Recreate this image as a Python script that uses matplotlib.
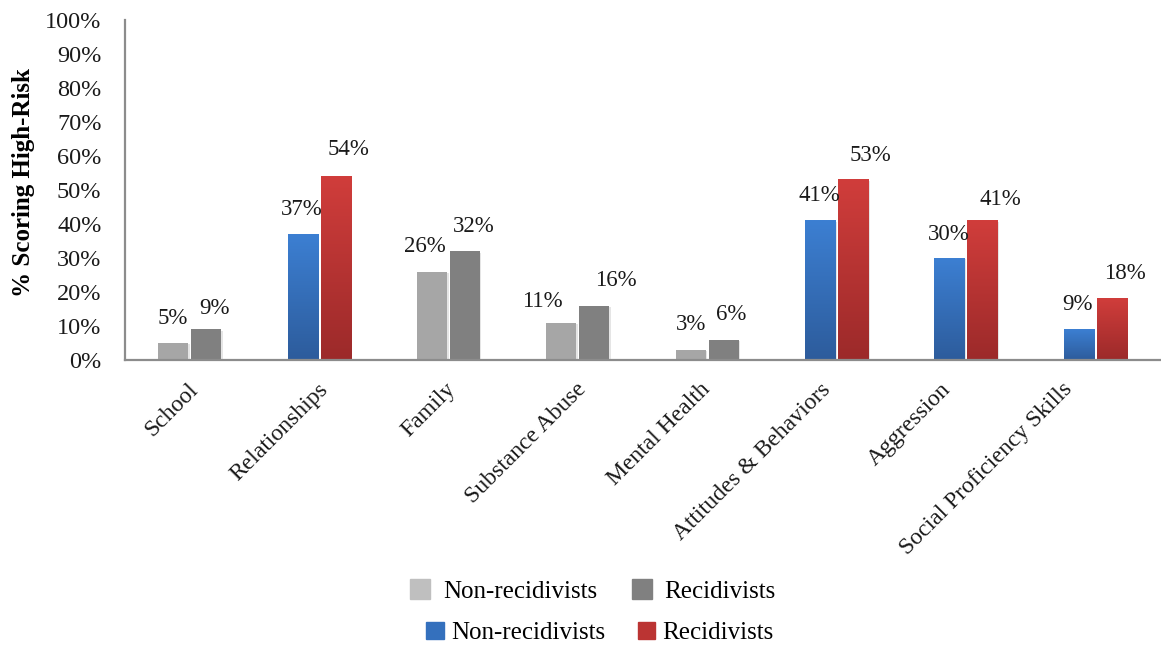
import numpy as np
import matplotlib
matplotlib.use("Agg")
import matplotlib.pyplot as plt
from matplotlib.patches import Patch, Rectangle
from matplotlib.colors import to_rgb

categories = ["School", "Relationships", "Family", "Substance Abuse",
              "Mental Health", "Attitudes & Behaviors", "Aggression",
              "Social Proficiency Skills"]
non_recid = [5, 37, 26, 11, 3, 41, 30, 9]
recid = [9, 54, 32, 16, 6, 53, 41, 18]
# domains drawn in gray, the others in blue/red
gray_domains = ["School", "Family", "Substance Abuse", "Mental Health"]

# label nudges in pixels (dx, dy above bar top)
off_non = [(0, 24), (-1, 25), (-7, 25), (-19, 21), (0, 25), (-1, 25), (-1, 24), (-1, 25)]
off_rec = [(8, 21), (13, 27), (9, 25), (22, 25), (8, 25), (17, 24), (18, 21), (13, 25)]
# horizontal nudge of the category labels, pixels
tick_shift = [5, 6, 4, 5, 0, -9, -18, -26]

plt.rcParams['font.family'] = ['Liberation Serif', 'DejaVu Serif']

GRAY_LIGHT = "#a6a6a6"
GRAY_DARK = "#808080"
BLUE = ("#3c7fd2", "#2d5c9c")
RED = ("#d03d3b", "#9c2a2a")


def gradient_bar(ax, x, h, w, top, bottom):
    c_top = np.array(to_rgb(top))
    c_bot = np.array(to_rgb(bottom))
    t = np.linspace(0, 1, 64)[:, None]
    img = (c_bot * (1 - t) + c_top * t)[:, None, :]
    ax.imshow(img, extent=(x - w / 2, x + w / 2, 0, h), origin='lower',
              aspect='auto', interpolation='bilinear', zorder=3)


def shadow(ax, x, h, w):
    ax.add_patch(Rectangle((x - w / 2 + 0.012, -0.4), w, h, color='black',
                           alpha=0.10, lw=0, zorder=2))


fig = plt.figure(figsize=(11.61, 6.48), dpi=100)
ax = fig.add_axes([125 / 1161, 1 - 360 / 648, 1035 / 1161, 340 / 648])

x = np.arange(len(categories))
w = 0.232
d = 0.1275
px = len(categories) / 1035  # data units per pixel along x

for i, cat in enumerate(categories):
    xn, xr = x[i] - d, x[i] + d
    shadow(ax, xn, non_recid[i], w)
    shadow(ax, xr, recid[i], w)
    if cat in gray_domains:
        ax.bar(xn, non_recid[i], w, color=GRAY_LIGHT, zorder=3)
        ax.bar(xr, recid[i], w, color=GRAY_DARK, zorder=3)
    else:
        gradient_bar(ax, xn, non_recid[i], w, *BLUE)
        gradient_bar(ax, xr, recid[i], w, *RED)
    for xv, v, (dx, dy) in ((xn, non_recid[i], off_non[i]), (xr, recid[i], off_rec[i])):
        ax.annotate(f"{v}%", (xv, v), xytext=(dx, dy), textcoords='offset pixels',
                    ha='center', va='center', fontsize=16.5, color='#1a1a1a')

ax.set_xlim(-0.5, len(categories) - 0.5)
ax.set_ylim(0, 100)
ax.set_yticks(range(0, 101, 10))
ax.set_yticklabels([f"{v}%" for v in range(0, 101, 10)], fontsize=17.5)
ax.set_xticks(x + np.array(tick_shift) * px)
ax.set_xticklabels(categories, rotation=45, ha='right', va='center',
                   rotation_mode='anchor', fontsize=17)
ax.tick_params(axis='y', length=0, pad=17, colors='#1a1a1a')
ax.tick_params(axis='x', length=0, pad=19, colors='#1a1a1a')

for s in ('top', 'right'):
    ax.spines[s].set_visible(False)
for s in ('left', 'bottom'):
    ax.spines[s].set_color('#8c8c8c')
    ax.spines[s].set_linewidth(1.6)
    ax.spines[s].set_zorder(4)

fig.text(24 / 1161, 1 - 183 / 648, "% Scoring High-Risk", rotation=90,
         ha='center', va='center', fontsize=18, fontweight='bold')

leg1 = fig.legend([Patch(color="#bfbfbf"), Patch(color=GRAY_DARK)],
                  ["Non-recidivists", "Recidivists"], ncol=2, loc='center',
                  bbox_to_anchor=(593 / 1161, 1 - 591 / 648), frameon=False,
                  fontsize=18, handlelength=0.8, handleheight=0.8,
                  handletextpad=0.5, columnspacing=1.4)
leg2 = fig.legend([Patch(color="#3470bd"), Patch(color="#bb3433")],
                  ["Non-recidivists", "Recidivists"], ncol=2, loc='center',
                  bbox_to_anchor=(600 / 1161, 1 - 633 / 648), frameon=False,
                  fontsize=18, handlelength=0.7, handleheight=0.7,
                  handletextpad=0.3, columnspacing=1.3)

fig.savefig("out.png", dpi=100)
